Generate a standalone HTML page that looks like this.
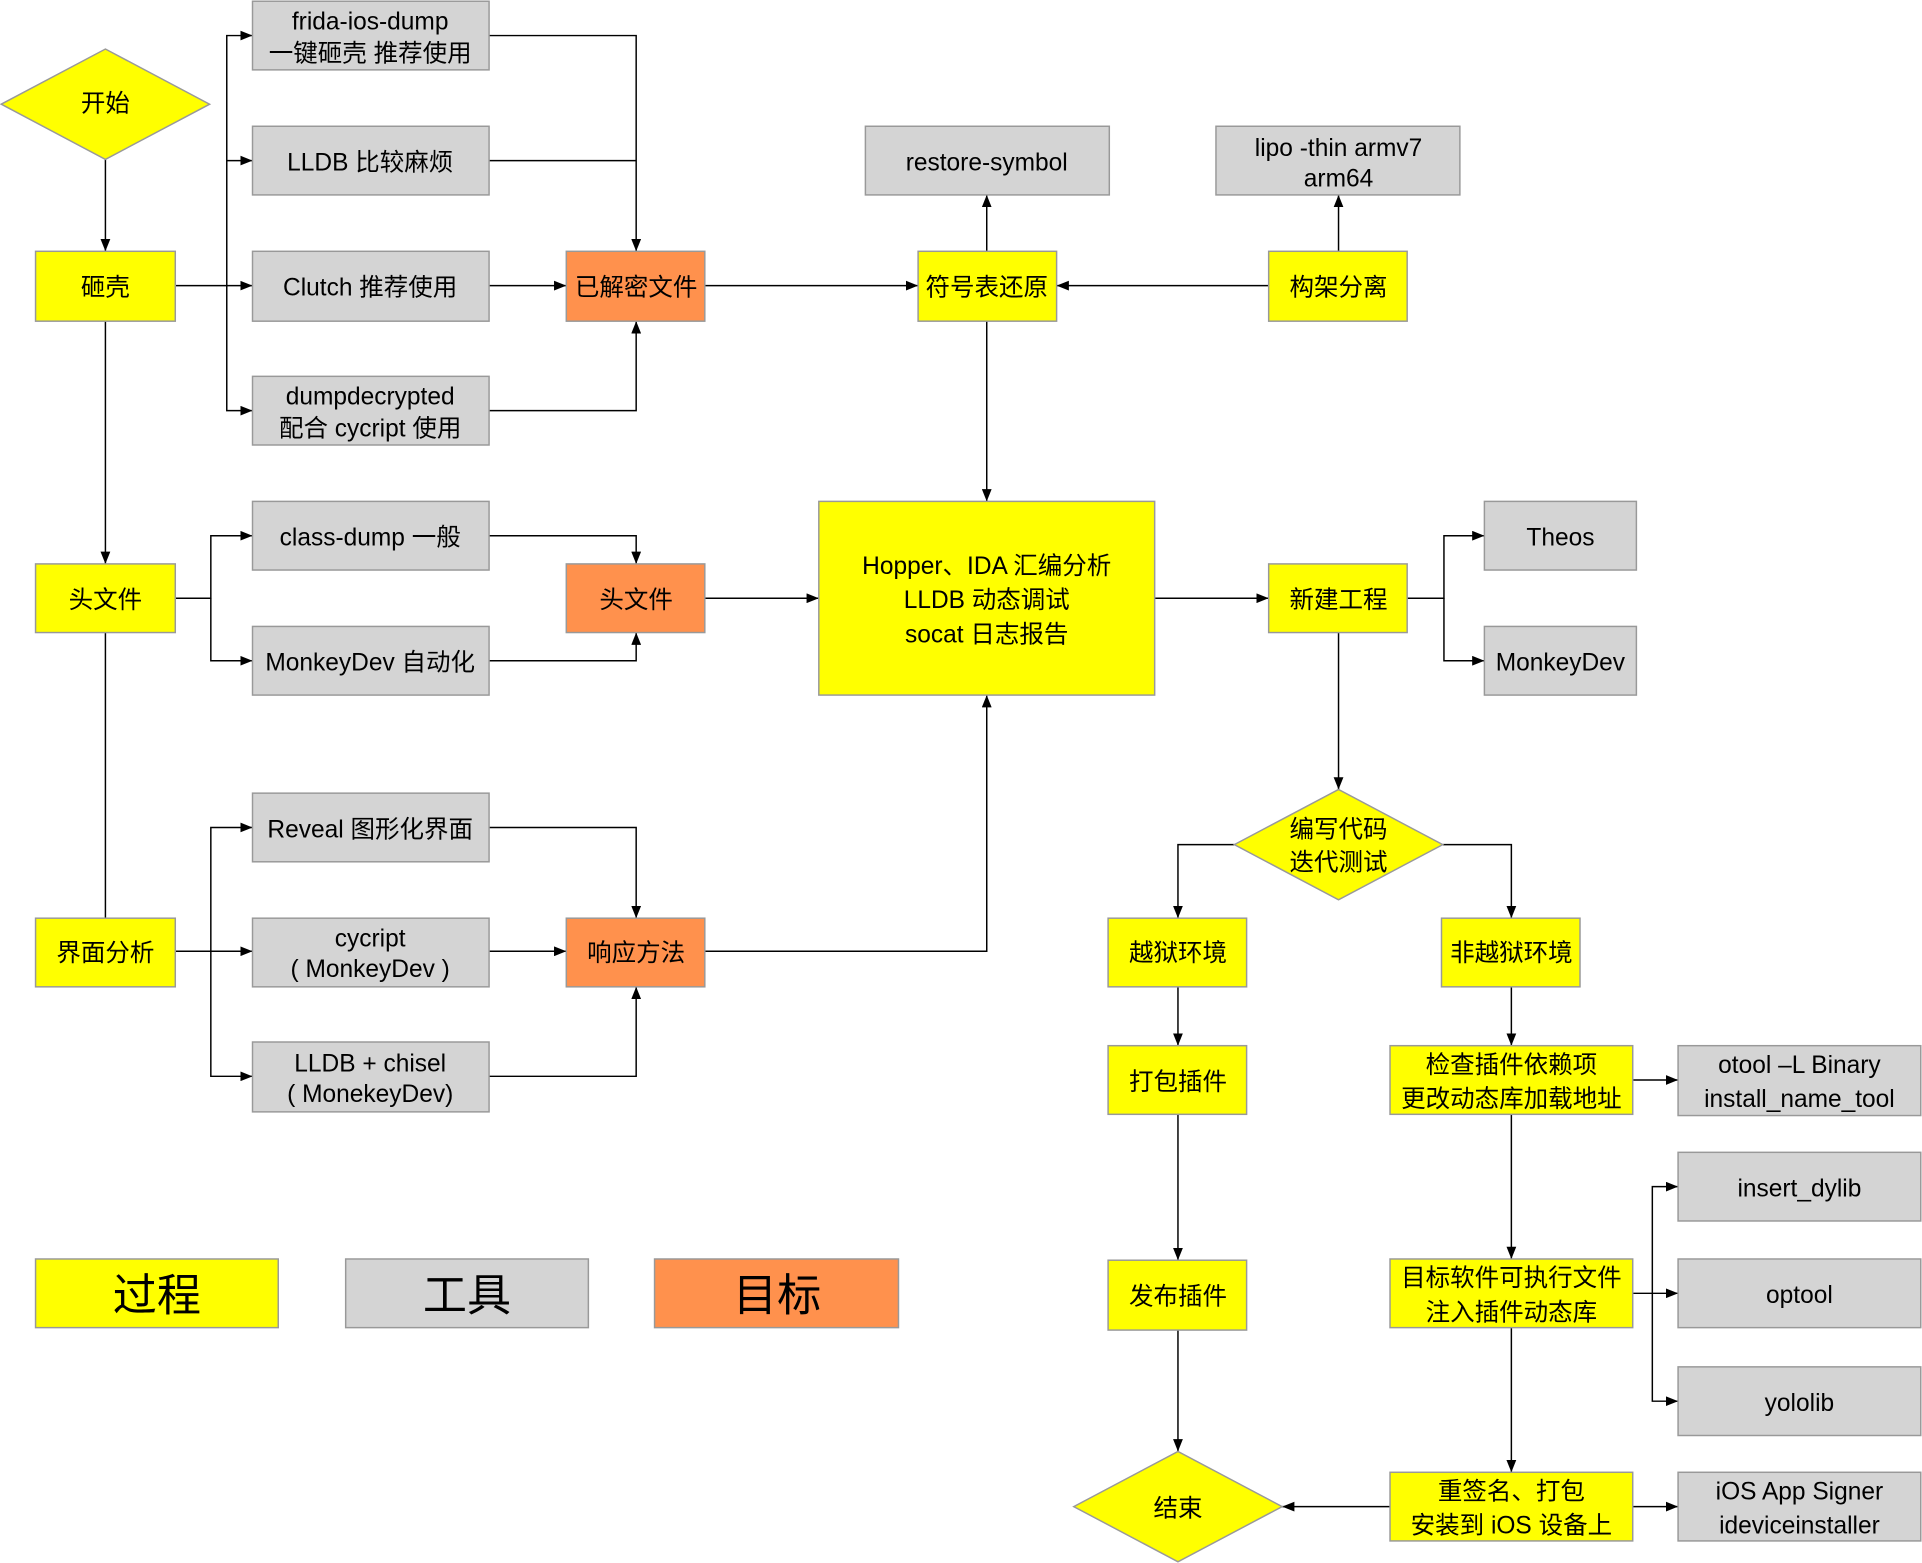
<!DOCTYPE html>
<html><head><meta charset="utf-8"><style>
html,body{margin:0;padding:0;background:#fff;width:1922px;height:1563px;overflow:hidden}
text{font-family:"Liberation Sans","Noto Sans CJK SC",sans-serif;font-size:20px;fill:#000;text-anchor:middle;dominant-baseline:central}
.y{fill:#FFFF00;stroke:#999;stroke-width:1.2}
.g{fill:#D4D4D4;stroke:#999;stroke-width:1.2}
.o{fill:#FF914D;stroke:#999;stroke-width:1.2}
.l{fill:none;stroke:#000;stroke-width:1.2}
</style></head><body>
<svg width="1922" height="1563" viewBox="0 0 1568 1275" preserveAspectRatio="none" xmlns="http://www.w3.org/2000/svg">
<defs><marker id="a" markerWidth="10" markerHeight="8" refX="10" refY="4" orient="auto" markerUnits="userSpaceOnUse"><path d="M0,0L10,4L0,8z" fill="#000"/></marker></defs>
<g class="l" marker-end="url(#a)">
<path d="M86,130V205"/>
<path d="M143,233H206"/>
<path d="M185,233V29H206"/><path d="M185,131H206"/><path d="M185,233V335H206"/>
<path d="M399,29H519V205"/>
<path d="M399,233H462"/>
<path d="M399,335H519V262"/>
<path d="M575,233H749"/>
<path d="M805,205V159"/>
<path d="M1035,233H862"/>
<path d="M1092,205V159"/>
<path d="M805,262V409"/>
<path d="M86,262V460"/>
<path d="M143,488H172V437H206"/><path d="M172,488V539H206"/>
<path d="M399,437H519V460"/>
<path d="M399,539H519V516"/>
<path d="M575,488H668"/>
<path d="M143,776H206"/>
<path d="M172,776V675H206"/><path d="M172,776V878H206"/>
<path d="M399,675H519V749"/>
<path d="M399,776H462"/>
<path d="M399,878H519V805"/>
<path d="M575,776H805V567"/>
<path d="M942,488H1035"/>
<path d="M1148,488H1178V437H1211"/><path d="M1178,488V539H1211"/>
<path d="M1092,516V644"/>
<path d="M1007,689H961V749"/>
<path d="M1177,689H1233V749"/>
<path d="M961,805V853"/>
<path d="M961,909V1028"/>
<path d="M961,1085V1184"/>
<path d="M1233,805V853"/>
<path d="M1332,881H1369"/>
<path d="M1233,909V1027"/>
<path d="M1332,1055H1369"/>
<path d="M1348,1055V968H1369"/><path d="M1348,1055V1143H1369"/>
<path d="M1233,1083V1201"/>
<path d="M1134,1229H1046"/>
<path d="M1332,1229H1369"/>
</g>
<path class="l" d="M86,516V749"/>
<path class="l" d="M399,131H519"/>
<g transform="translate(0,2)">
<polygon class="y" points="1,83 86,38 171,83 86,128" transform="translate(0,0)"/><text x="86" y="83">开始</text>
</g>
<rect class="y" x="29" y="205" width="114" height="57"/><text x="86" y="235">砸壳</text>
<rect class="g" x="206" y="1" width="193" height="56"/><text x="302" y="18">frida-ios-dump</text><text x="302" y="44">一键砸壳 推荐使用</text>
<rect class="g" x="206" y="103" width="193" height="56"/><text x="302" y="133">LLDB 比较麻烦</text>
<rect class="g" x="206" y="205" width="193" height="57"/><text x="302" y="235">Clutch 推荐使用</text>
<rect class="g" x="206" y="307" width="193" height="56"/><text x="302" y="324">dumpdecrypted</text><text x="302" y="350">配合 cycript 使用</text>
<rect class="o" x="462" y="205" width="113" height="57"/><text x="519" y="235">已解密文件</text>
<rect class="g" x="706" y="103" width="199" height="56"/><text x="805" y="133">restore-symbol</text>
<rect class="y" x="749" y="205" width="113" height="57"/><text x="805" y="235">符号表还原</text>
<rect class="g" x="992" y="103" width="199" height="56"/><text x="1092" y="121">lipo -thin armv7</text><text x="1092" y="146">arm64</text>
<rect class="y" x="1035" y="205" width="113" height="57"/><text x="1092" y="235">构架分离</text>
<rect class="y" x="29" y="460" width="114" height="56"/><text x="86" y="490">头文件</text>
<rect class="g" x="206" y="409" width="193" height="56"/><text x="302" y="439">class-dump 一般</text>
<rect class="g" x="206" y="511" width="193" height="56"/><text x="302" y="541">MonkeyDev 自动化</text>
<rect class="o" x="462" y="460" width="113" height="56"/><text x="519" y="490">头文件</text>
<rect class="y" x="668" y="409" width="274" height="158"/><text x="805" y="462">Hopper、IDA 汇编分析</text><text x="805" y="490">LLDB 动态调试</text><text x="805" y="518">socat 日志报告</text>
<rect class="y" x="1035" y="460" width="113" height="56"/><text x="1092" y="490">新建工程</text>
<rect class="g" x="1211" y="409" width="124" height="56"/><text x="1273" y="439">Theos</text>
<rect class="g" x="1211" y="511" width="124" height="56"/><text x="1273" y="541">MonkeyDev</text>
<polygon class="y" points="1007,689 1092,644 1177,689 1092,734"/><text x="1092" y="677">编写代码</text><text x="1092" y="704">迭代测试</text>
<rect class="y" x="29" y="749" width="114" height="56"/><text x="86" y="778">界面分析</text>
<rect class="g" x="206" y="647" width="193" height="56"/><text x="302" y="677">Reveal 图形化界面</text>
<rect class="g" x="206" y="749" width="193" height="56"/><text x="302" y="766">cycript</text><text x="302" y="791">( MonkeyDev )</text>
<rect class="g" x="206" y="850" width="193" height="57"/><text x="302" y="868">LLDB + chisel</text><text x="302" y="893">( MonekeyDev)</text>
<rect class="o" x="462" y="749" width="113" height="56"/><text x="519" y="778">响应方法</text>
<rect class="y" x="904" y="749" width="113" height="56"/><text x="961" y="778">越狱环境</text>
<rect class="y" x="1176" y="749" width="113" height="56"/><text x="1233" y="778">非越狱环境</text>
<rect class="y" x="904" y="853" width="113" height="56"/><text x="961" y="883">打包插件</text>
<rect class="y" x="1134" y="853" width="198" height="56"/><text x="1233" y="869">检查插件依赖项</text><text x="1233" y="897">更改动态库加载地址</text>
<rect class="g" x="1369" y="853" width="198" height="57"/><text x="1468" y="869">otool –L Binary</text><text x="1468" y="897">install_name_tool</text>
<rect class="g" x="1369" y="940" width="198" height="56"/><text x="1468" y="970">insert_dylib</text>
<rect class="g" x="1369" y="1027" width="198" height="56"/><text x="1468" y="1057">optool</text>
<rect class="g" x="1369" y="1115" width="198" height="56"/><text x="1468" y="1145">yololib</text>
<rect class="y" x="904" y="1028" width="113" height="57"/><text x="961" y="1058">发布插件</text>
<rect class="y" x="1134" y="1027" width="198" height="56"/><text x="1233" y="1043">目标软件可执行文件</text><text x="1233" y="1071">注入插件动态库</text>
<polygon class="y" points="876,1229 961,1184 1046,1229 961,1274"/><text x="961" y="1231">结束</text>
<rect class="y" x="1134" y="1201" width="198" height="56"/><text x="1233" y="1217">重签名、打包</text><text x="1233" y="1245">安装到 iOS 设备上</text>
<rect class="g" x="1369" y="1201" width="198" height="56"/><text x="1468" y="1217">iOS App Signer</text><text x="1468" y="1245">ideviceinstaller</text>
<rect class="y" x="29" y="1027" width="198" height="56"/><text x="128" y="1057" style="font-size:36px">过程</text>
<rect class="g" x="282" y="1027" width="198" height="56"/><text x="381" y="1057" style="font-size:36px">工具</text>
<rect class="o" x="534" y="1027" width="199" height="56"/><text x="634" y="1057" style="font-size:36px">目标</text>
</svg>
</body></html>
